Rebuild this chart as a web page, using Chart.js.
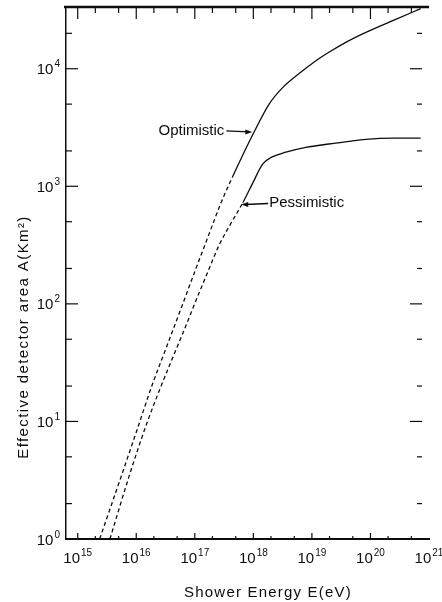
<!DOCTYPE html>
<html>
<head>
<meta charset="utf-8">
<title>Effective detector area vs shower energy</title>
<script src="https://cdn.jsdelivr.net/npm/chart.js@4.4.1/dist/chart.umd.min.js"></script>
<style>
  html, body { margin: 0; padding: 0; background: #fff; }
  #wrap { width: 442px; height: 602px; }
</style>
</head>
<body>
<div id="wrap"><canvas id="chart" width="442" height="602"></canvas></div>
<script>
// Effective detector area vs shower energy (log-log)

// Optimistic curve: shower energy (eV) and area (km^2)
const optimisticEnergy = [2.37e15, 5.25e15, 1.0e16, 1.9e16, 3.1e16, 5.9e16, 9.1e16, 2.0e17, 2.8e17,
  4.4e17, 1.05e18, 1.86e18, 3.16e18, 5.4e18, 1.17e19, 1.95e19, 4.0e19, 7.2e19, 2.7e20, 7.2e20];
const optimisticArea = [1, 3.16, 8.1, 20.9, 39.8, 93, 166, 468, 724,
  1200, 2950, 5000, 6900, 8700, 11700, 13800, 17000, 19700, 26300, 32400];

// Pessimistic curve
const pessimisticEnergy = [3.55e15, 7.8e15, 1.5e16, 2.7e16, 3.7e16, 5.9e16, 1.2e17, 1.66e17,
  2.6e17, 4.2e17, 6.6e17, 9.8e17, 1.45e18, 2.1e18, 3.6e18, 7.9e18, 1.95e19, 4.0e19, 8.3e19, 2.5e20, 7.2e20];
const pessimisticArea = [1, 3.6, 9.5, 20.4, 30, 52.5, 126, 186,
  316, 490, 724, 1070, 1550, 1780, 1950, 2140, 2290, 2400, 2510, 2570, 2570];

// axis decades; labels are 10 raised to these exponents
const energyTicks = [1e15, 1e16, 1e17, 1e18, 1e19, 1e20, 1e21];
const energyTickExp = ['15', '16', '17', '18', '19', '20', '21'];
const areaTicks = [1, 10, 100, 1000, 10000];
const areaTickExp = ['0', '1', '2', '3', '4'];

const INK = '#0d0d0d';
const FONT = '"Liberation Sans", Arial, sans-serif';

function toPoints(xs, ys) {
  return xs.map((x, i) => ({ x: x, y: ys[i] }));
}

// lower parts of the curves come out broken in the scan
function lowerDash(limit) {
  return ctx => (ctx.p1.parsed.y < limit ? [4, 3] : undefined);
}

function line(ctx, x1, y1, x2, y2) {
  ctx.beginPath();
  ctx.moveTo(x1, y1);
  ctx.lineTo(x2, y2);
  ctx.stroke();
}

// frame: heavy top border and inward tick marks on all four sides
const frameTicks = {
  id: 'frameTicks',
  afterDraw(c) {
    const ctx = c.ctx;
    const a = c.chartArea;
    const x = c.scales.x;
    const y = c.scales.y;
    ctx.save();
    ctx.strokeStyle = INK;
    ctx.lineWidth = 2.5;
    line(ctx, a.left - 2, a.top, a.right, a.top);

    ctx.lineWidth = 1.2;
    for (let d = 14; d <= 21; d++) {
      [1, 2, 5].forEach(m => {
        const px = x.getPixelForValue(m * Math.pow(10, d));
        if (px < a.left + 2 || px > a.right - 2) return;
        const big = m === 1;
        line(ctx, px, a.top, px, a.top + (big ? 12 : 6));
        line(ctx, px, a.bottom, px, a.bottom - (big ? 6 : 3));
      });
    }
    for (let d = 0; d <= 4; d++) {
      [1, 2, 5].forEach(m => {
        const py = y.getPixelForValue(m * Math.pow(10, d));
        if (py < a.top + 2 || py > a.bottom - 2) return;
        const big = m === 1;
        line(ctx, a.left, py, a.left + (big ? 12 : 6), py);
        line(ctx, a.right - 7, py, a.right - 7 - (big ? 12 : 5), py);
      });
    }
    ctx.restore();
  }
};

// "10" with a raised exponent; (cx, cy) is the centre of the "10"
function powerLabel(ctx, exp, cx, cy, align) {
  ctx.font = '15px ' + FONT;
  const wBase = ctx.measureText('10').width;
  ctx.font = '10px ' + FONT;
  const wExp = ctx.measureText(exp).width + 1;
  let left = cx - (wBase + wExp) / 2;
  if (align === 'right') left = cx - wBase - wExp;
  ctx.textAlign = 'left';
  ctx.textBaseline = 'alphabetic';
  ctx.font = '15px ' + FONT;
  ctx.fillText('10', left, cy + 5.5);
  ctx.font = '10px ' + FONT;
  ctx.fillText(exp, left + wBase + 1, cy - 1.5);
}

function arrowHead(ctx, tipX, tipY, dir) {
  ctx.beginPath();
  ctx.moveTo(tipX, tipY);
  ctx.lineTo(tipX - dir * 7, tipY - 2.5);
  ctx.lineTo(tipX - dir * 7, tipY + 2.5);
  ctx.closePath();
  ctx.fill();
}

// tick labels, axis titles and the two curve labels with arrows
const labels = {
  id: 'labels',
  afterDraw(c) {
    const ctx = c.ctx;
    const a = c.chartArea;
    const x = c.scales.x;
    const y = c.scales.y;
    ctx.save();
    ctx.fillStyle = INK;
    ctx.strokeStyle = INK;
    ctx.lineWidth = 1.3;

    energyTicks.forEach((v, i) => {
      powerLabel(ctx, energyTickExp[i], x.getPixelForValue(v), a.bottom + 18, 'center');
    });
    areaTicks.forEach((v, i) => {
      powerLabel(ctx, areaTickExp[i], a.left - 6, y.getPixelForValue(v), 'right');
    });

    ctx.textBaseline = 'middle';
    ctx.font = '15px ' + FONT;

    // Optimistic: arrow points right onto the curve
    let tx = x.getPixelForValue(9.6e17);
    let ty = y.getPixelForValue(2900);
    line(ctx, tx - 26, ty - 1, tx - 4, ty);
    arrowHead(ctx, tx, ty, 1);
    ctx.textAlign = 'right';
    ctx.fillText('Optimistic', tx - 28, ty - 1);

    // Pessimistic: arrow points left onto the curve
    tx = x.getPixelForValue(6.2e17);
    ty = y.getPixelForValue(700);
    line(ctx, tx + 4, ty, tx + 27, ty - 1);
    arrowHead(ctx, tx, ty, -1);
    ctx.textAlign = 'left';
    ctx.fillText('Pessimistic', tx + 28, ty - 2);

    // axis titles
    ctx.textAlign = 'center';
    ctx.letterSpacing = '1.2px';
    ctx.fillText('Shower Energy E(eV)', 268, 593);

    ctx.letterSpacing = '1.4px';
    ctx.translate(24, 337);
    ctx.rotate(-Math.PI / 2);
    ctx.fillText('Effective detector area A(Km²)', 0, 0);
    ctx.restore();
  }
};

const chart = new Chart(document.getElementById('chart'), {
  type: 'line',
  data: {
    datasets: [
      {
        label: 'Optimistic',
        data: toPoints(optimisticEnergy, optimisticArea),
        borderColor: INK,
        borderWidth: 1.3,
        pointRadius: 0,
        cubicInterpolationMode: 'monotone',
        segment: { borderDash: lowerDash(2500) }
      },
      {
        label: 'Pessimistic',
        data: toPoints(pessimisticEnergy, pessimisticArea),
        borderColor: INK,
        borderWidth: 1.3,
        pointRadius: 0,
        cubicInterpolationMode: 'monotone',
        segment: { borderDash: lowerDash(900) }
      }
    ]
  },
  options: {
    responsive: false,
    devicePixelRatio: 1,
    animation: false,
    layout: { padding: { top: 7, right: 13, left: 0, bottom: 0 } },
    plugins: {
      legend: { display: false },
      tooltip: { enabled: false }
    },
    scales: {
      x: {
        type: 'logarithmic',
        min: Math.pow(10, 14.8),
        max: 1e21,
        grid: { display: false },
        border: { display: true, color: INK, width: 2 },
        afterBuildTicks: s => { s.ticks = energyTicks.map(v => ({ value: v, major: true })); },
        afterFit: s => { s.height = 63; s.paddingLeft = 0; s.paddingRight = 0; },
        ticks: { display: false }
      },
      y: {
        type: 'logarithmic',
        min: 1,
        max: 33500,
        grid: { display: false },
        border: { display: true, color: INK, width: 1.5 },
        afterBuildTicks: s => { s.ticks = areaTicks.map(v => ({ value: v, major: true })); },
        afterFit: s => { s.width = 66; s.paddingTop = 0; s.paddingBottom = 0; },
        ticks: { display: false }
      }
    }
  },
  plugins: [frameTicks, labels]
});
</script>
</body>
</html>
